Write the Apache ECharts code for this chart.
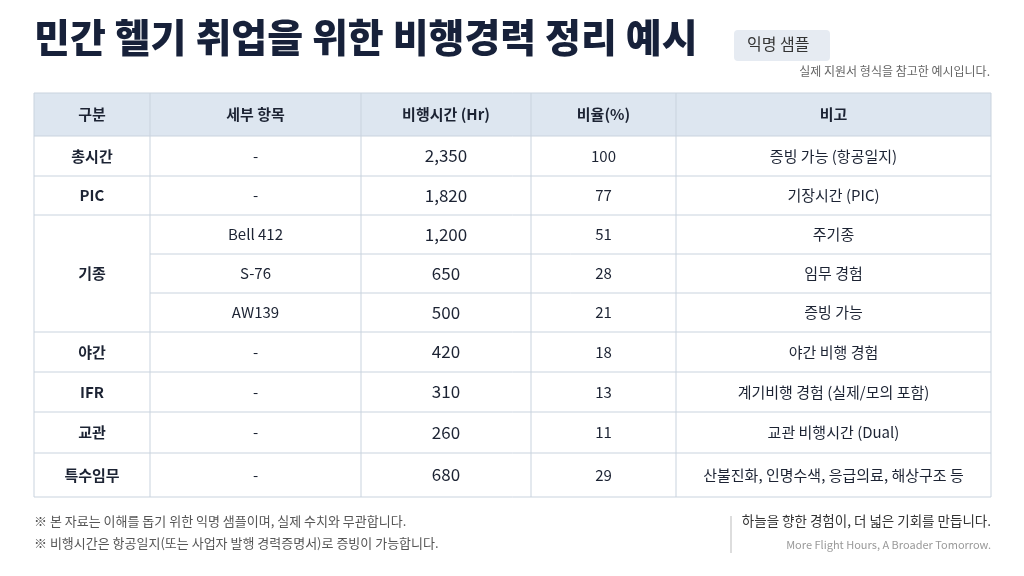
<!DOCTYPE html>
<html><head><meta charset="utf-8">
<script src="https://cdn.jsdelivr.net/npm/echarts@6/dist/echarts.min.js"></script>
<style>html,body{margin:0;background:#fff}#c{width:1024px;height:576px}</style>
</head><body><div id="c"></div>
<script>
const FONT = '"Noto Sans CJK KR", "Noto Sans", sans-serif';
const headers = ['구분', '세부 항목', '비행시간 (Hr)', '비율(%)', '비고'];
const groups = ['총시간', 'PIC', '기종', '기종', '기종', '야간', 'IFR', '교관', '특수임무'];
const items = ['-', '-', 'Bell 412', 'S-76', 'AW139', '-', '-', '-', '-'];
const hours = [2350, 1820, 1200, 650, 500, 420, 310, 260, 680];
const ratios = [100, 77, 51, 28, 21, 18, 13, 11, 29];
const notes = ['증빙 가능 (항공일지)', '기장시간 (PIC)', '주기종', '임무 경험', '증빙 가능', '야간 비행 경험',
  '계기비행 경험 (실제/모의 포함)', '교관 비행시간 (Dual)', '산불진화, 인명수색, 응급의료, 해상구조 등'];

// layout: column edges and row edges in table units (px inside the grid)
const colEdges = [0, 116, 327, 497, 642, 957];
const rowEdges = [0, 43, 83, 122, 161, 200, 239, 279, 319, 360, 404];

const rows = [headers].concat(hours.map((h, i) => [groups[i], items[i], h.toLocaleString('en-US'), String(ratios[i]), notes[i]]));

const chart = echarts.init(document.getElementById('c'));
chart.setOption({
  animation: false,
  grid: { left: 34, right: 33, top: 93, bottom: 79 },
  xAxis: { type: 'value', min: 0, max: 957, show: false },
  yAxis: { type: 'value', min: 0, max: 404, inverse: true, show: false },
  series: [{
    type: 'custom',
    data: rows.map((r, i) => [i]),
    renderItem(params, api) {
      const i = params.dataIndex;
      const r = rows[i];
      const children = [];
      const y0 = api.coord([0, rowEdges[i]])[1];
      const y1 = api.coord([0, rowEdges[i + 1]])[1];
      const xs = colEdges.map((c) => api.coord([c, 0])[0]);
      const head = i === 0;
      const d = i - 1;
      children.push({ type: 'rect', shape: { x: xs[0], y: y0, width: xs[5] - xs[0], height: y1 - y0 },
        style: { fill: head ? '#dde6f0' : '#fff' } });
      const inGroup = d >= 3 && d <= 4 && groups[d] === groups[d - 1];
      children.push({ type: 'line', shape: { x1: inGroup ? xs[1] : xs[0], y1: y0, x2: xs[5], y2: y0 },
        style: { stroke: '#c9d3de', lineWidth: 1 } });
      if (i === rows.length - 1) children.push({ type: 'line', shape: { x1: xs[0], y1: y1, x2: xs[5], y2: y1 }, style: { stroke: '#c9d3de', lineWidth: 1 } });
      xs.forEach((x) => children.push({ type: 'line', shape: { x1: x, y1: y0, x2: x, y2: y1 }, style: { stroke: '#c9d3de', lineWidth: 1 } }));
      r.forEach((t, c) => {
        if (c === 0 && !head && groups[d] === '기종' && d !== 3) return;
        const big = !head && c === 2;
        children.push({ type: 'text', style: { text: t, x: (xs[c] + xs[c + 1]) / 2, y: (y0 + y1) / 2,
          align: 'center', verticalAlign: 'middle', fontFamily: FONT,
          fontSize: big ? 17 : 15,
          fontWeight: head || c === 0 ? 'bold' : 'normal', fill: '#1c2333' } });
      });
      return { type: 'group', children };
    }
  }],
  graphic: [
    { type: 'text', left: 34, top: 18, style: { text: '민간 헬기 취업을 위한 비행경력 정리 예시', fontFamily: FONT, fontSize: 39, fontWeight: 900, fill: '#17213a' } },
    { type: 'rect', left: 734, top: 30, shape: { width: 96, height: 31, r: 4 }, style: { fill: '#e6ebf2' } },
    { type: 'text', left: 747, top: 36, style: { text: '익명 샘플', fontFamily: FONT, fontSize: 16, fill: '#333' } },
    { type: 'text', right: 34, top: 65, style: { text: '실제 지원서 형식을 참고한 예시입니다.', fontFamily: FONT, fontSize: 12, fill: '#666' } },
    { type: 'text', left: 34, top: 515, style: { text: '※ 본 자료는 이해를 돕기 위한 익명 샘플이며, 실제 수치와 무관합니다.', fontFamily: FONT, fontSize: 13, fill: '#555' } },
    { type: 'text', left: 34, top: 537, style: { text: '※ 비행시간은 항공일지(또는 사업자 발행 경력증명서)로 증빙이 가능합니다.', fontFamily: FONT, fontSize: 13, fill: '#555' } },
    { type: 'line', shape: { x1: 731, y1: 516, x2: 731, y2: 553 }, style: { stroke: '#bbb', lineWidth: 1 } },
    { type: 'text', right: 33, top: 514, style: { text: '하늘을 향한 경험이, 더 넓은 기회를 만듭니다.', fontFamily: FONT, fontSize: 13.5, fill: '#333' } },
    { type: 'text', right: 33, top: 539, style: { text: 'More Flight Hours, A Broader Tomorrow.', fontFamily: FONT, fontSize: 11, fill: '#999' } }
  ]
});
</script></body></html>
